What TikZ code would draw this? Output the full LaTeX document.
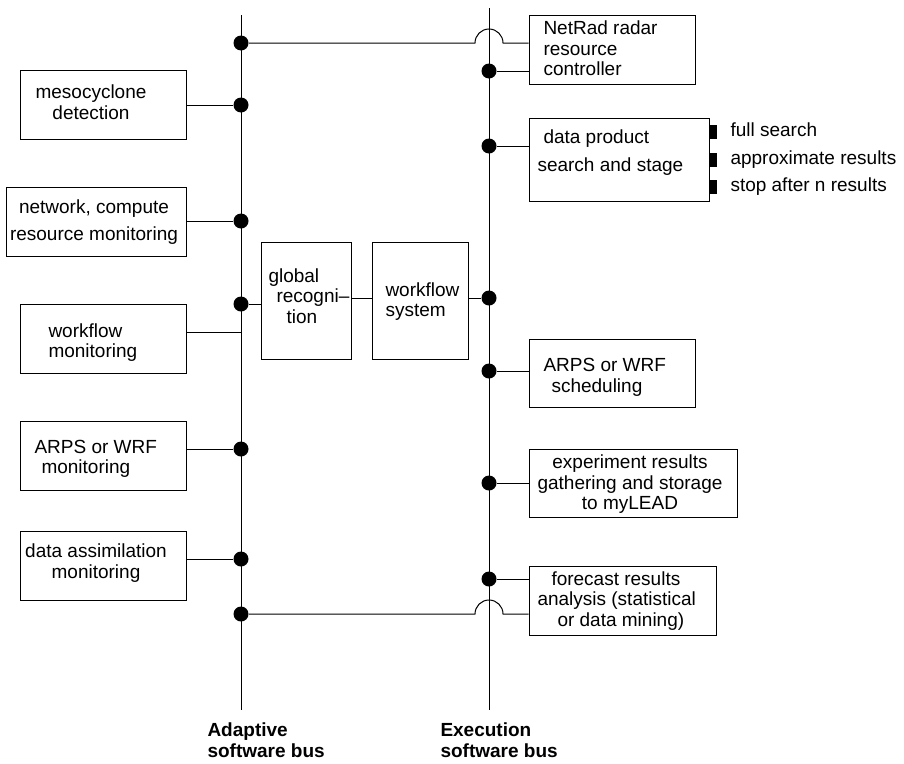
\documentclass[tikz,border=0pt]{standalone}
\usepackage{fontspec}
\setmainfont{Liberation Sans}
\usetikzlibrary{positioning}

\begin{document}
\begin{tikzpicture}[x=1pt,y=-1pt,line width=1pt,font=\fontsize{19}{20.5}\selectfont,
  box/.style={draw,minimum width=166pt,minimum height=69pt,inner sep=0pt},
  txt/.style={inner sep=0pt,align=left,anchor=west},
  dot/.style={circle,fill,inner sep=0pt,minimum size=15pt},
  opt/.style={fill,inner sep=0pt,minimum width=7pt,minimum height=14pt,anchor=west},
  opttxt/.style={inner sep=0pt,text height=13.9pt,text depth=4pt,right=13pt of #1},
  busname/.style={inner sep=0pt,align=left,anchor=west,font=\bfseries\fontsize{19}{20.5}\selectfont}]
\useasboundingbox (0,0) rectangle (904,763);
% the two buses
\coordinate (atop) at (241,15);
\coordinate (abot) at (241,710);
\coordinate (etop) at (489,8);
\coordinate (ebot) at (489,710);
\draw (atop)--(abot);
\draw (etop)--(ebot);
\node[busname] (aname) at (207,740) {Adaptive\\software bus};
\node[busname] (ename) at (440,740) {Execution\\software bus};
% adaptive side
\node[box] (meso) at (103,104.5) {};
\node[txt,align=center,anchor=center] (mesot) at (91,102) {mesocyclone\\detection};
\node[box,minimum width=180pt] (net) at (96,221.5) {};
\node[txt,align=center,anchor=center] (nett) at (94,222.5) {network, compute\\[6.5pt]resource monitoring};
\node[box] (wfmon) at (103,338.5) {};
\node[txt] (wfmont) at (48,342.5) {workflow\\monitoring};
\node[box] (arpsmon) at (103,455.5) {};
\node[txt] (arpsmont) at (34,459) {ARPS or WRF\\\hspace*{7pt}monitoring};
\node[box] (assim) at (103,565.5) {};
\node[txt,align=center,anchor=center] (assimt) at (96,563) {data assimilation\\monitoring};
% middle
\node[box,minimum width=90pt,minimum height=117pt] (glob) at (306,300.5) {};
\node[txt] (globt) at (268,296) {global\\\hspace*{8pt}recogni--\\\hspace*{18pt}tion};
\node[box,minimum width=96pt,minimum height=117pt] (wfs) at (420,300.5) {};
\node[txt] (wfst) at (385,301.5) {workflow\\system};
% execution side
\node[box] (netrad) at (612,49.5) {};
\node[txt] (netradt) at (543,48.5) {NetRad radar\\resource\\controller};
\node[box,minimum width=180pt,minimum height=83pt] (prod) at (619,159.5) {};
\node[txt] (prodt) at (537,153) {\hspace*{6pt}data product\\[7.5pt]search and stage};
\node[opt] (o1) at (709,132) {};
\node[opt] (o2) at (709,160) {};
\node[opt] (o3) at (709,187) {};
\node[opttxt=o1] (o1t) {full search};
\node[opttxt=o2] (o2t) {approximate results};
\node[opttxt=o3] (o3t) {stop after n results};
\node[box,minimum height=68pt] (sched) at (612,373) {};
\node[txt] (schedt) at (543,377.5) {ARPS or WRF\\\hspace*{8pt}scheduling};
\node[box,minimum width=208pt,minimum height=68pt] (exper) at (633,483) {};
\node[txt,align=center,anchor=center] (expert) at (630,484.5) {experiment results\\gathering and storage\\to myLEAD};
\node[box,minimum width=187pt] (fcast) at (622.5,600.5) {};
\node[txt] (fcastt) at (537,601) {\hspace*{14pt}forecast results\\analysis (statistical\\\hspace*{20pt}or data mining)};
% taps on the buses
\node[dot] (a1) at (241,43) {};
\node[dot] (a2) at (241,105) {};
\node[dot] (a3) at (241,221) {};
\node[dot] (a4) at (241,304) {};
\node[dot] (a5) at (241,449) {};
\node[dot] (a6) at (241,559) {};
\node[dot] (a7) at (241,614) {};
\node[dot] (e1) at (489,71) {};
\node[dot] (e2) at (489,146) {};
\node[dot] (e3) at (489,298) {};
\node[dot] (e4) at (489,371) {};
\node[dot] (e5) at (489,483) {};
\node[dot] (e6) at (489,579) {};
\draw (a2)--(a2 -| meso.east);
\draw (a3)--(a3 -| net.east);
\coordinate (wfm) at ([yshift=6.5pt]wfmon.east);
\draw (wfm)--(wfm -| atop);
\draw (a4)--(a4 -| glob.west);
\draw (a5)--(a5 -| arpsmon.east);
\draw (a6)--(a6 -| assim.east);
\draw (e3 -| glob.east)--(e3 -| wfs.west);
\draw (e3)--(e3 -| wfs.east);
\draw (e1)--(e1 -| netrad.west);
\draw (e2)--(e2 -| prod.west);
\draw (e4)--(e4 -| sched.west);
\draw (e5)--(e5 -| exper.west);
\draw (e6)--(e6 -| fcast.west);
% lines hopping over the execution bus
\coordinate (h1) at (a1 -| etop);
\coordinate (h2) at (a7 -| etop);
\draw (a1)--([xshift=-14pt]h1) arc[start angle=180,end angle=0,radius=14pt]--(a1 -| netrad.west);
\draw (a7)--([xshift=-14pt]h2) arc[start angle=180,end angle=0,radius=14pt]--(a7 -| fcast.west);
\end{tikzpicture}
\end{document}
